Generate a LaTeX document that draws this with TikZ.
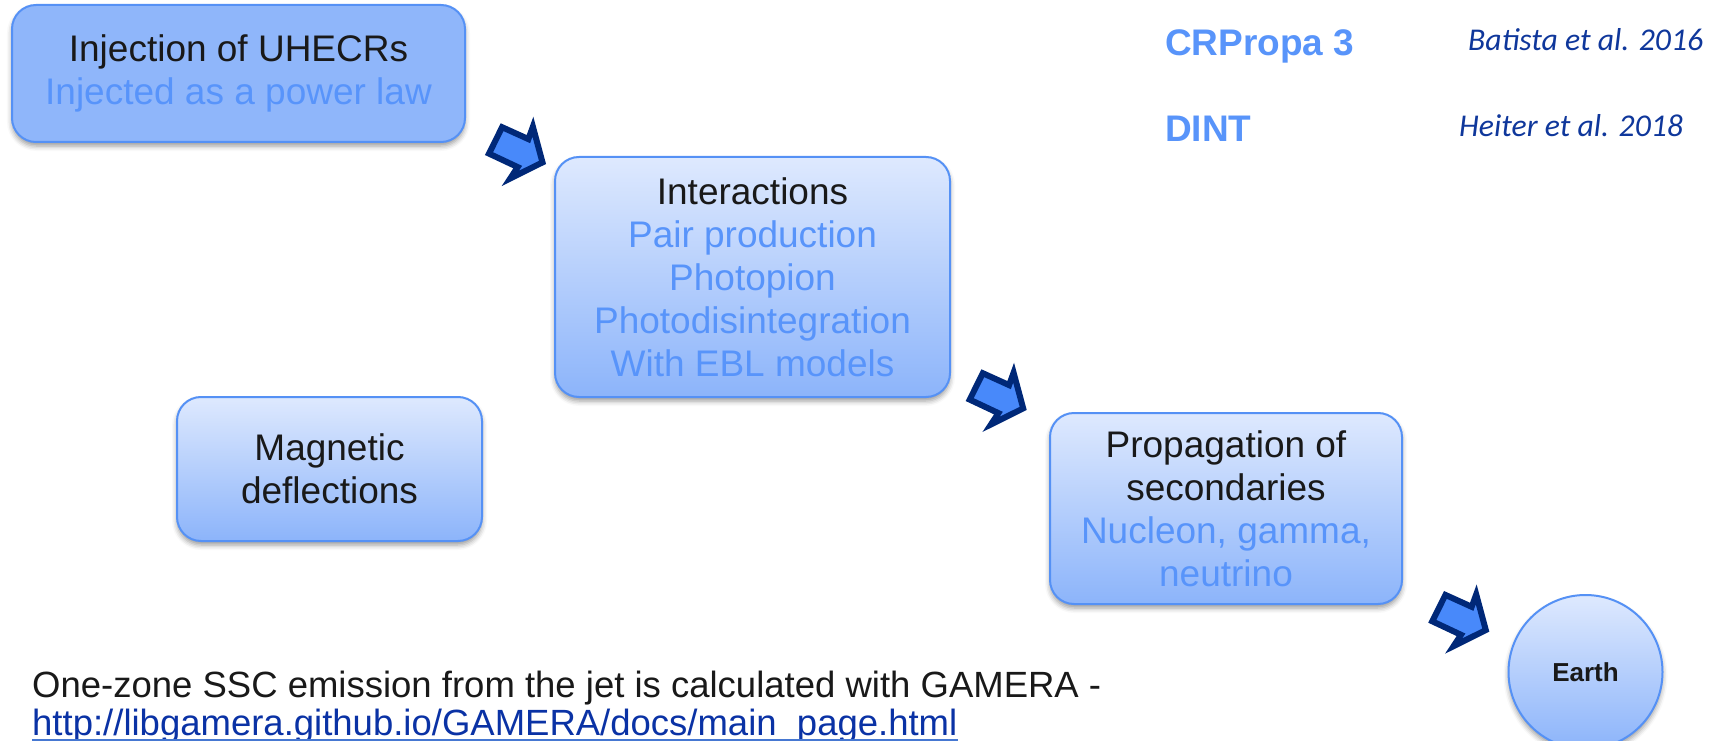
\documentclass[tikz,border=0pt]{standalone}
\usepackage{fontspec}
\setmainfont{Liberation Sans}
\newfontfamily\reffont{Carlito}
\usepackage{tikz}
\usetikzlibrary{shadows.blur,shapes.geometric}

\definecolor{boxtop}{RGB}{222,233,254}
\definecolor{boxbottom}{RGB}{140,180,250}
\definecolor{boxflat}{RGB}{143,182,250}
\definecolor{boxedge}{RGB}{85,145,245}
\definecolor{textblue}{RGB}{88,148,250}
\definecolor{textblack}{RGB}{25,25,25}
\definecolor{navy}{RGB}{0,40,120}
\definecolor{arrowfill}{RGB}{72,137,250}
\definecolor{refblue}{RGB}{15,55,155}
\definecolor{linkblue}{RGB}{10,50,165}
\definecolor{linkline}{RGB}{70,120,210}

\newcommand{\bluetext}[1]{\textcolor{textblue}{#1}}

\tikzset{
  pics/fatarrow/.style={code={
    \draw[line width=6pt, draw=navy, fill=arrowfill, line join=miter]
      (-43.9,-36.8) -- (-17.6,-24.9) -- (-13.1,-37.3) -- (-3.5,-1.6)
      -- (-35.7,14.4) -- (-28.3,3.1) -- (-57,-10.4) -- cycle;
  }}
}

\begin{document}
\begin{tikzpicture}[x=1pt, y=-1pt, every node/.style={font=\fontsize{37}{43}\selectfont, text=textblack}]
  \tikzstyle{stage}=[rectangle, rounded corners=24pt, draw=boxedge, line width=2pt,
    top color=boxtop, bottom color=boxbottom, align=center, inner sep=0pt,
    blur shadow={shadow xshift=0pt, shadow yshift=-4pt, shadow blur radius=5pt}]
  \tikzstyle{code}=[anchor=base west, inner sep=0pt, text=textblue, font=\fontsize{37}{40}\selectfont\bfseries]
  \tikzstyle{cite}=[anchor=base west, inner sep=0pt, text=refblue, font=\fontsize{31.7}{36}\reffont\itshape]
  \useasboundingbox (0,0) rectangle (1714,741);

  % process boxes
  \node[stage, fill=boxflat, top color=boxflat, bottom color=boxflat,
        minimum width=453pt, minimum height=137pt] (inj) at (238.5,73.5)
        {Injection of UHECRs\\ \bluetext{Injected as a power law}};
  \node[stage, minimum width=395pt, minimum height=240pt] (inter) at (752.5,277)
        {Interactions\\ \bluetext{Pair production}\\ \bluetext{Photopion}\\
         \bluetext{Photodisintegration}\\ \bluetext{With EBL models}};
  \node[stage, minimum width=305pt, minimum height=144pt] (magn) at (329.5,469)
        {Magnetic\\ deflections};
  \node[stage, minimum width=352pt, minimum height=191pt] (prop) at (1226,508.5)
        {Propagation of\\ secondaries\\ \bluetext{Nucleon, gamma,}\\ \bluetext{neutrino}};
  \node[stage, circle, minimum size=154pt,
        font=\fontsize{26}{30}\selectfont\bfseries] (earth) at (1585.5,672) {Earth};

  % block arrows between the stages
  \pic (arrA) at (546,164) {fatarrow};
  \pic (arrB) at (1026.7,410) {fatarrow};
  \pic (arrC) at (1489.3,631.7) {fatarrow};

  % codes and references
  \node[code] (crp) at (1165,56) {CRPropa 3};
  \node[code] (dint) at (1165,142) {DINT};
  \node[cite] (batista) at (1468,51) {Batista et al. 2016};
  \node[cite] (heiter) at (1459,137) {Heiter et al. 2018};

  % note at the bottom
  \node[anchor=base west, inner sep=0pt, font=\fontsize{36.5}{40}\selectfont] (note) at (32,697)
        {One-zone SSC emission from the jet is calculated with GAMERA -};
  \node[anchor=base west, inner sep=0pt, text=linkblue, font=\fontsize{36.5}{40}\selectfont] (link) at (32,735)
        {http://libgamera.github.io/GAMERA/docs/main\_page.html};
  \draw[linkline, line width=2.5pt] ([yshift=-5pt]link.base west) -- ([yshift=-5pt]link.base east);
\end{tikzpicture}
\end{document}
